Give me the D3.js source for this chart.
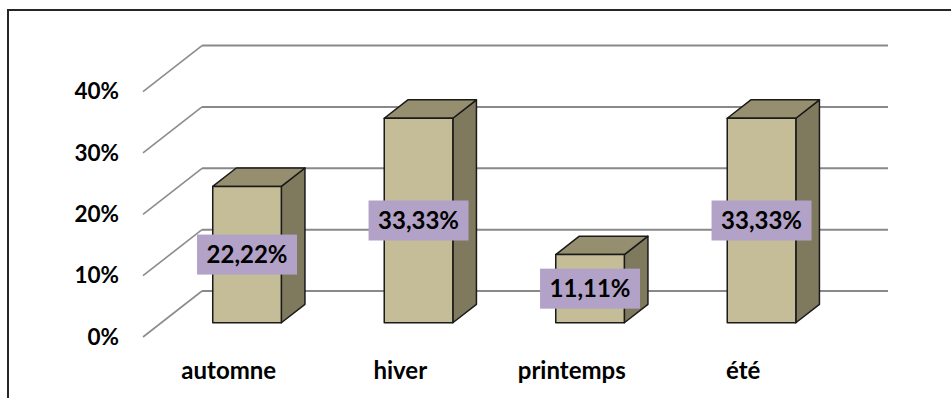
<!DOCTYPE html>
<html>
<head>
<meta charset="utf-8">
<script src="https://cdn.jsdelivr.net/npm/d3@7/dist/d3.min.js"></script>
<style>
  html, body { margin: 0; padding: 0; background: #fff; }
  svg { display: block; }
  text { font-family: Lato, "Open Sans", sans-serif; font-weight: 700; fill: #000; }
</style>
</head>
<body>
<svg id="chart" width="951" height="398"></svg>
<script>
// Saison de naissance (part des effectifs)
const categories = ["automne", "hiver", "printemps", "été"];
const values = [0.2222, 0.3333, 0.1111, 0.3333];
const valueLabels = ["22,22%", "33,33%", "11,11%", "33,33%"];
const tickValues = [0, 0.1, 0.2, 0.3, 0.4];
const tickLabels = ["0%", "10%", "20%", "30%", "40%"];

const svg = d3.select("#chart");

// Front plane scales; depth is projected by an oblique offset
const x = d3.scaleBand().domain(categories).range([143, 829])
  .paddingInner(0.6).paddingOuter(0.3);
const y = d3.scaleLinear().domain([0, 0.4]).range([337, 91.6]);
const depthX = 59, depthY = 46;
const proj = (px, v, z) => [px + depthX * z, y(v) - depthY * z];

// Outer frame (top and left edges)
svg.append("path")
  .attr("d", "M8,398 L8,10 L951,10")
  .attr("fill", "none").attr("stroke", "#262626").attr("stroke-width", 2);

// Side wall diagonals and back wall gridlines
const grid = svg.append("g");
tickValues.forEach(v => {
  const a = proj(x.range()[0], v, 0);
  const b = proj(x.range()[0], v, 1);
  const c = proj(x.range()[1], v, 1);
  grid.append("line")
    .attr("x1", a[0]).attr("y1", a[1]).attr("x2", b[0]).attr("y2", b[1])
    .attr("stroke", "#8c8c8c").attr("stroke-width", 1.6);
  grid.append("line")
    .attr("x1", b[0]).attr("y1", b[1]).attr("x2", c[0]).attr("y2", c[1])
    .attr("stroke", "#898989").attr("stroke-width", 2);
});

// Value axis labels
svg.append("g").selectAll("text").data(tickValues).join("text")
  .attr("x", 119).attr("y", d => y(d) + 7.8)
  .attr("text-anchor", "end").attr("font-size", 22.5)
  .text((d, i) => tickLabels[i]);

// 3D columns
const z0 = 0.31, z1 = 0.71;
const bars = svg.append("g").selectAll("g").data(categories).join("g");
const pts = arr => arr.map(p => p.join(",")).join(" ");
bars.each(function(c, i) {
  const g = d3.select(this);
  const xl = x(c), xr = x(c) + x.bandwidth();
  const v = values[i];
  // right side face
  g.append("polygon")
    .attr("points", pts([proj(xr, 0, z0), proj(xr, v, z0), proj(xr, v, z1), proj(xr, 0, z1)]))
    .attr("fill", "#7f7a5e").attr("stroke", "#1a1a1a").attr("stroke-width", 1.5)
    .attr("stroke-linejoin", "round");
  // top face
  g.append("polygon")
    .attr("points", pts([proj(xl, v, z0), proj(xr, v, z0), proj(xr, v, z1), proj(xl, v, z1)]))
    .attr("fill", "#958e6f").attr("stroke", "#1a1a1a").attr("stroke-width", 1.5)
    .attr("stroke-linejoin", "round");
  // front face
  g.append("polygon")
    .attr("points", pts([proj(xl, 0, z0), proj(xr, 0, z0), proj(xr, v, z0), proj(xl, v, z0)]))
    .attr("fill", "#c4bd97").attr("stroke", "#1a1a1a").attr("stroke-width", 1.5)
    .attr("stroke-linejoin", "round");
});

// Data labels on the front faces
bars.each(function(c, i) {
  const g = d3.select(this);
  const cx = x(c) + x.bandwidth() / 2 + depthX * z0;
  const cy = (y(0) + y(values[i])) / 2 - depthY * z0;
  const box = g.append("rect").attr("fill", "#b3a2c7");
  const t = g.append("text")
    .attr("x", cx).attr("y", cy + 8.5)
    .attr("text-anchor", "middle").attr("font-size", 24)
    .text(valueLabels[i]);
  const w = t.node().getComputedTextLength() + 19;
  box.attr("x", cx - w / 2).attr("y", cy - 20).attr("width", w).attr("height", 40);
});

// Category labels
svg.append("g").selectAll("text").data(categories).join("text")
  .attr("x", d => x(d) + x.bandwidth() / 2)
  .attr("y", 379)
  .attr("text-anchor", "middle").attr("font-size", 24)
  .text(d => d);
</script>
</body>
</html>
